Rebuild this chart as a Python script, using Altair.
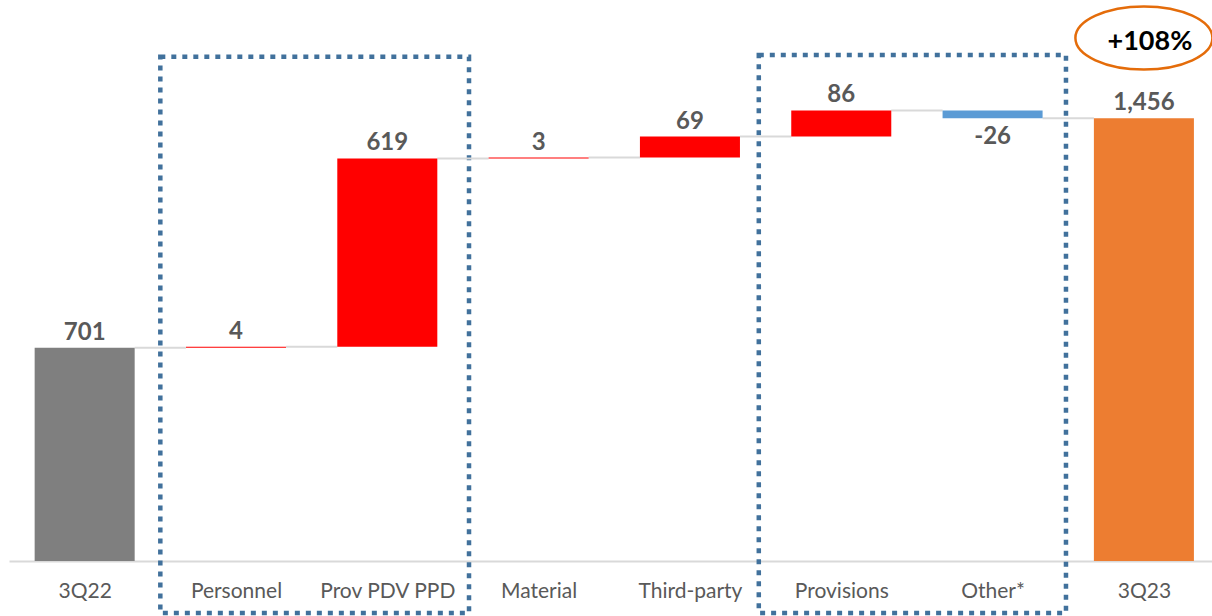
import altair as alt
import pandas as pd

categories = ["3Q22", "Personnel", "Prov PDV PPD", "Material", "Third-party", "Provisions", "Other*", "3Q23"]
deltas = [701, 4, 619, 3, 69, 86, -26, 1456]
kinds = ["total", "delta", "delta", "delta", "delta", "delta", "delta", "total"]
colors = ["#7F7F7F", "#FF0000", "#FF0000", "#FF0000", "#FF0000", "#FF0000", "#5B9BD5", "#ED7D31"]

# annotation boxes (category-index units and value units)
box_x = [0.5, 4.455]
box_x2 = [2.54, 6.485]
box_top = [1658, 1664]
box_bottom = [-171, -171]
badge_text = "+108%"

rows = []
running = 0
for i, (c, d, k, col) in enumerate(zip(categories, deltas, kinds, colors)):
    if k == "total":
        start, end = 0, d
    else:
        start, end = running, running + d
    running = end
    rows.append(dict(idx=i, cat=c, lo=start, hi=end, delta=d, col=col, lab=f"{d:,}"))
df = pd.DataFrame(rows)

conn = pd.DataFrame([dict(idx=r["idx"], level=r["hi"]) for r in rows[:-1]])
boxes = pd.DataFrame(dict(bx=box_x, bx2=box_x2, btop=box_top, bbot=box_bottom))
badge = pd.DataFrame(dict(idx=[7], yv=[1720], ty=[1707], txt=[badge_text]))

HALF = 0.3305
xscale = alt.Scale(domain=[-0.5, 7.45], nice=False, zero=False)
yscale = alt.Scale(domain=[0, 1845], nice=False, zero=False)

label_expr = "[" + ",".join(f"'{c}'" for c in categories) + "][datum.value]"

xaxis = alt.Axis(values=list(range(len(categories))), labelExpr=label_expr, title=None,
                 ticks=False, grid=False, domainColor="#D9D9D9", domainWidth=2,
                 labelFont="Lato", labelFontSize=21, labelColor="#595959", labelPadding=19)


def X(field):
    return alt.X(field, scale=xscale, axis=xaxis)


def Y(field):
    return alt.Y(field, scale=yscale, axis=None)


base = alt.Chart(df)

bars = base.transform_calculate(
    xa=f"datum.idx - {HALF}", xb=f"datum.idx + {HALF}"
).mark_bar().encode(
    x=X("xa:Q"), x2="xb:Q",
    y=Y("lo:Q"), y2="hi:Q",
    color=alt.Color("col:N", scale=None, legend=None),
)

connectors = alt.Chart(conn).transform_calculate(
    xa=f"datum.idx + {HALF}", xb=f"datum.idx + 1 - {HALF}"
).mark_rule(color="#D9D9D9", strokeWidth=2).encode(
    x=X("xa:Q"), x2="xb:Q", y=Y("level:Q")
)

pos_labels = base.transform_filter("datum.delta >= 0").mark_text(
    font="Lato", fontSize=24, fontWeight="bold", color="#595959", dy=-15, baseline="middle"
).encode(x=X("idx:Q"), y=Y("hi:Q"), text="lab:N")

neg_labels = base.transform_filter("datum.delta < 0").mark_text(
    font="Lato", fontSize=24, fontWeight="bold", color="#595959", dy=19, baseline="middle"
).encode(x=X("idx:Q"), y=Y("hi:Q"), text="lab:N")

box_marks = alt.Chart(boxes).mark_rect(
    filled=False, stroke="#41719C", strokeWidth=4.5, strokeDash=[5, 6]
).encode(
    x=X("bx:Q"), x2="bx2:Q",
    y=Y("bbot:Q"), y2="btop:Q",
)

ellipse = alt.Chart(badge).mark_point(
    shape="M -1 0 A 1 0.46 0 1 1 1 0 A 1 0.46 0 1 1 -1 0",
    filled=False, stroke="#E46C0A", strokeWidth=2.5, size=18769, opacity=1,
).encode(x=X("idx:Q"), y=Y("yv:Q"))

badge_txt = alt.Chart(badge).mark_text(
    font="Lato", fontSize=27, fontWeight="bold", color="#000000", dx=6, baseline="middle"
).encode(x=X("idx:Q"), y=Y("ty:Q"), text="txt:N")

chart = alt.layer(box_marks, connectors, bars, pos_labels, neg_labels, ellipse, badge_txt).properties(
    width=1203, height=561,
    autosize=alt.AutoSizeParams(type="none"),
    padding={"left": 9, "top": 0, "right": 0, "bottom": 55},
    background="white",
).configure_view(stroke=None)

chart.save("out.html", embed_options={"renderer": "svg", "actions": False})
